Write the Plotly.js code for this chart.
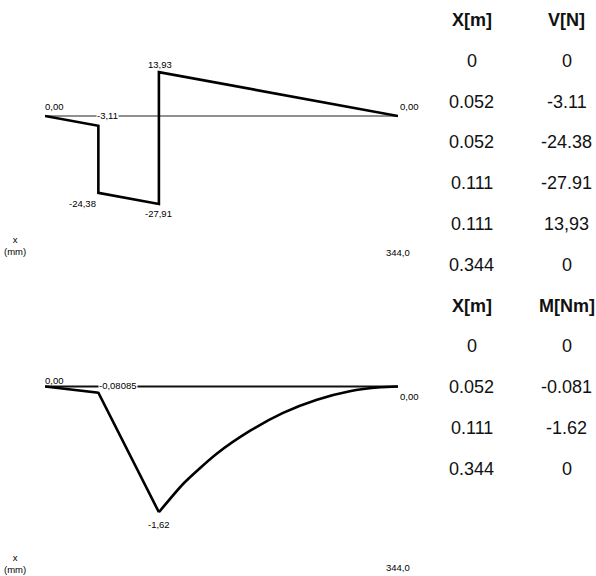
<!DOCTYPE html>
<html>
<head>
<meta charset="utf-8">
<script src="https://cdn.plot.ly/plotly-3.0.1.min.js"></script>
<style>html,body{margin:0;padding:0;background:#fff;}#chart{width:596px;height:576px;}</style>
</head>
<body>
<div id="chart"></div>
<script>
// ---- data (x in mm) ----
const vX = [0, 52, 52, 111, 111, 344];
const vValues = [0, -3.11, -24.38, -27.91, 13.93, 0];

const mXLin = [0, 52, 111];
const mValuesLin = [0, -0.08085, -1.62];
const mXCurve = [111, 135, 167, 200, 232, 265, 297, 327, 344];
const mValuesCurve = [-1.62, -1.25, -0.87, -0.57, -0.34, -0.17, -0.06, -0.01, 0];

// table texts
const tableVHead = ['X[m]', 'V[N]'];
const tableVX = ['0', '0.052', '0.052', '0.111', '0.111', '0.344'];
const tableVV = ['0', '-3.11', '-24.38', '-27.91', '13,93', '0'];
const tableMHead = ['X[m]', 'M[Nm]'];
const tableMX = ['0', '0.052', '0.111', '0.344'];
const tableMM = ['0', '-0.081', '-1.62', '0'];

const axisLabel = 'x<br>(mm)';

// ---- helpers ----
const W = 596, H = 576;
const px = x => x / W;
const py = y => 1 - y / H;
const fmt = (v, d) => v.toFixed(d).replace('.', ',').replace(/^-(0,0+)$/, '$1');
const smallFont = {family: 'Liberation Sans Narrow, Arial Narrow, Liberation Sans, sans-serif', size: 9.5, color: '#000'};
const tabFont = {family: 'Liberation Sans, Arial, sans-serif', size: 18, color: '#111'};
const tabFontB = {family: 'Liberation Sans, Arial, sans-serif', size: 18, color: '#111', weight: 'bold'};

const traces = [
  {x: vX, y: vValues, xaxis: 'x', yaxis: 'y', mode: 'lines', line: {color: '#000', width: 2.6}, hoverinfo: 'skip'},
  {x: mXLin, y: mValuesLin, xaxis: 'x2', yaxis: 'y2', mode: 'lines', line: {color: '#000', width: 2.6}, hoverinfo: 'skip'},
  {x: mXCurve, y: mValuesCurve, xaxis: 'x2', yaxis: 'y2', mode: 'lines', line: {color: '#000', width: 2.6, shape: 'spline', smoothing: 0.6}, hoverinfo: 'skip'}
];

const xEnd = vX[vX.length - 1];
const mXEnd = mXCurve[mXCurve.length - 1];

const ann = [];
function a(o) { ann.push(Object.assign({showarrow: false, font: smallFont, borderpad: 0}, o)); }

// top diagram labels
a({xref: 'x', yref: 'y', x: vX[0], y: vValues[0], text: fmt(vValues[0], 2), xanchor: 'left', yanchor: 'middle', yshift: 9, xshift: -1});
a({xref: 'x', yref: 'y', x: vX[1], y: 0, text: fmt(vValues[1], 2), xanchor: 'left', yanchor: 'middle', xshift: -2, bgcolor: '#fff'});
a({xref: 'x', yref: 'y', x: vX[4], y: vValues[4], text: fmt(vValues[4], 2), xanchor: 'center', yanchor: 'middle', yshift: 8, xshift: 1});
a({xref: 'x', yref: 'y', x: vX[5], y: vValues[5], text: fmt(vValues[5], 2), xanchor: 'left', yanchor: 'middle', yshift: 9, xshift: 1});
a({xref: 'x', yref: 'y', x: vX[2], y: vValues[2], text: fmt(vValues[2], 2), xanchor: 'right', yanchor: 'middle', yshift: -10.5, xshift: -1});
a({xref: 'x', yref: 'y', x: vX[3], y: vValues[3], text: fmt(vValues[3], 2), xanchor: 'center', yanchor: 'middle', yshift: -10});
a({xref: 'paper', yref: 'paper', x: px(15), y: py(246), text: axisLabel, xanchor: 'center', yanchor: 'middle'});
a({xref: 'x', yref: 'paper', x: xEnd, y: py(252), text: fmt(xEnd, 1), xanchor: 'center', yanchor: 'middle'});

// bottom diagram labels
a({xref: 'x2', yref: 'y2', x: mXLin[0], y: mValuesLin[0], text: fmt(mValuesLin[0], 2), xanchor: 'left', yanchor: 'middle', yshift: 6, xshift: -1});
a({xref: 'x2', yref: 'y2', x: mXLin[1], y: 0, text: fmt(mValuesLin[1], 5), xanchor: 'left', yanchor: 'middle', yshift: 1.5, bgcolor: '#fff'});
a({xref: 'x2', yref: 'y2', x: mXLin[2], y: mValuesLin[2], text: fmt(mValuesLin[2], 2), xanchor: 'center', yanchor: 'middle', yshift: -12});
a({xref: 'x2', yref: 'y2', x: mXEnd, y: mValuesCurve[mValuesCurve.length - 1], text: fmt(0, 2), xanchor: 'left', yanchor: 'middle', yshift: -10, xshift: 1});
a({xref: 'paper', yref: 'paper', x: px(15), y: py(563), text: axisLabel, xanchor: 'center', yanchor: 'middle'});
a({xref: 'x2', yref: 'paper', x: mXEnd, y: py(567), text: fmt(mXEnd, 1), xanchor: 'center', yanchor: 'middle'});

// tables
const colX = [471.7, 566.5];
const rowY = i => 20 + 40.8 * i;
function tRow(i, cells, bold) {
  cells.forEach((t, c) => a({xref: 'paper', yref: 'paper', x: px(colX[c]), y: py(rowY(i)), text: t, xanchor: 'center', yanchor: 'middle', font: bold ? tabFontB : tabFont}));
}
tRow(0, tableVHead, true);
tableVX.forEach((t, k) => tRow(1 + k, [t, tableVV[k]], false));
tRow(7, tableMHead, true);
tableMX.forEach((t, k) => tRow(8 + k, [t, tableMM[k]], false));

const shapes = [
  {type: 'line', xref: 'x', yref: 'y', x0: vX[0], x1: xEnd, y0: 0, y1: 0, line: {color: '#222', width: 1.2}, layer: 'below'},
  {type: 'line', xref: 'x2', yref: 'y2', x0: mXLin[0], x1: mXEnd, y0: 0, y1: 0, line: {color: '#111', width: 1.8}, layer: 'below'}
];

const xDom = [px(45), px(398)];
const layout = {
  width: W, height: H,
  margin: {l: 0, r: 0, t: 0, b: 0},
  paper_bgcolor: '#fff', plot_bgcolor: '#fff',
  showlegend: false,
  xaxis: {domain: xDom, range: [0, 344], visible: false, fixedrange: true},
  yaxis: {domain: [py(220), py(60)], range: [-(220 - 116) / 3.15, (116 - 60) / 3.15], visible: false, fixedrange: true},
  xaxis2: {domain: xDom, range: [0, 344], visible: false, anchor: 'y2', fixedrange: true},
  yaxis2: {domain: [py(530), py(370)], range: [-(530 - 386.5) / 77.6, (386.5 - 370) / 77.6], visible: false, anchor: 'x2', fixedrange: true},
  annotations: ann,
  shapes: shapes
};

Plotly.newPlot('chart', traces, layout, {staticPlot: true, displayModeBar: false});
</script>
</body>
</html>
